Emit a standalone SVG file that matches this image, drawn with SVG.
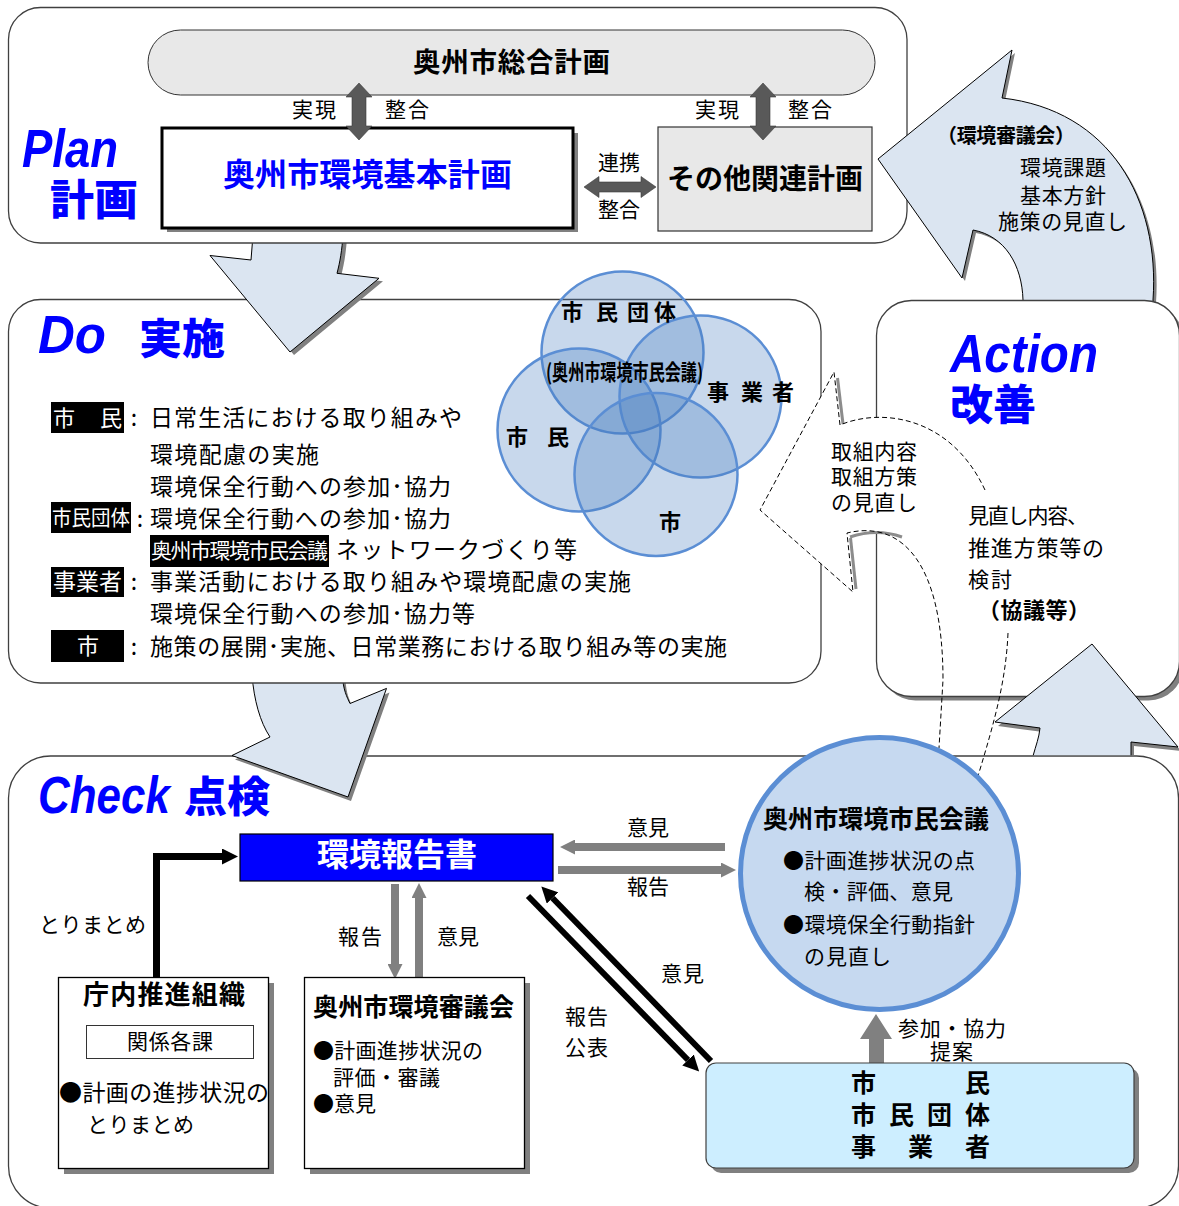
<svg xmlns="http://www.w3.org/2000/svg" width="1179" height="1206" viewBox="0 0 1179 1206">
<defs>
<style>
text{font-family:"Noto Sans CJK JP","Noto Sans CJK SC",sans-serif;dominant-baseline:central;fill:#000;transform:translateY(-0.09em)}
.b{font-weight:bold}
.s20{font-size:20px}.s21{font-size:21px}.s22{font-size:22px}.s23{font-size:23px}.s24{font-size:24px}.s25{font-size:25px}.s26{font-size:26px}
.lat{font-family:"Liberation Sans",Arial,sans-serif;font-style:italic;font-weight:bold;fill:#0000ff;dominant-baseline:alphabetic;transform:none}
.ttl{font-weight:900;fill:#0000ff;font-size:42px}
.w{fill:#fff}
.frame{fill:#fff;stroke:#404040;stroke-width:1.3}
.ba{fill:#dbe5f1;stroke:#000;stroke-width:1}
.sh{fill:#808080}
.venn{fill:#4a7ebf;fill-opacity:0.3;stroke:#5b8ed4;stroke-width:2.5}
.dash{fill:none;stroke:#000;stroke-width:1;stroke-dasharray:5 3}
.gs{fill:none;stroke:#8c8c8c;stroke-width:3}
.dg{fill:#595959;stroke:#3a3a3a;stroke-width:0.6}
.ga{stroke:#808080;stroke-width:8;fill:none}
.ka{stroke:#000;fill:none}
.box{fill:#fff;stroke:#000;stroke-width:1.3}
</style>
<marker id="hb" viewBox="0 0 16 16" markerWidth="16" markerHeight="16" refX="0" refY="8" orient="auto" markerUnits="userSpaceOnUse"><path d="M0,0L16,8L0,16z" fill="#000"/></marker>
<marker id="hg" viewBox="0 0 15 15" markerWidth="15" markerHeight="15" refX="0" refY="7.5" orient="auto" markerUnits="userSpaceOnUse"><path d="M0,0L15,7.5L0,15z" fill="#808080"/></marker>
<clipPath id="cpA"><rect x="900" y="600" width="300" height="155.3"/></clipPath>
</defs>
<rect width="1179" height="1206" fill="#fff"/>

<!-- CHECK frame -->
<g id="check-frame">
<rect class="frame" x="8.5" y="756" width="1170" height="452" rx="42"/>
</g>

<!-- Do -> Check arrow -->
<g id="arrow-do-check">
<path class="sh" transform="translate(3,4)" d="M252,675 C254,700 260,722 270,737 L232,755.5 L348,797 L386.5,688.4 L350,703.5 C347,697 343,690 342.5,675 Z"/>
<path class="ba" d="M252,675 C254,700 260,722 270,737 L232,755.5 L348,797 L386.5,688.4 L350,703.5 C347,697 343,690 342.5,675 Z"/>
</g>

<!-- DO frame -->
<g id="do-frame">
<rect class="frame" x="8.5" y="299.5" width="812.5" height="383.5" rx="32"/>
</g>

<!-- Plan -> Do arrow -->
<g id="arrow-plan-do">
<path class="sh" transform="translate(4,3)" d="M253,235 L251,260 L210,255.5 L290,352 L379,278.3 L337,273.3 C340,262 342,250 343,235 Z"/>
<path class="ba" d="M253,235 L251,260 L210,255.5 L290,352 L379,278.3 L337,273.3 C340,262 342,250 343,235 Z"/>
</g>

<!-- PLAN frame -->
<g id="plan-frame">
<rect class="frame" x="8.5" y="7.5" width="898.5" height="235.5" rx="32"/>
<text class="lat" x="22" y="167" font-size="54" textLength="96" lengthAdjust="spacingAndGlyphs">Plan</text>
<text class="ttl" x="50" y="200" textLength="88" lengthAdjust="spacingAndGlyphs">計画</text>
</g>
<g id="plan-sogo">
<rect x="148" y="30" width="727" height="65" rx="32.5" fill="#e8e8e8" stroke="#333" stroke-width="1"/>
<text class="b" x="413" y="62" font-size="27.5" textLength="197">奥州市総合計画</text>
</g>
<g id="plan-kihon">
<rect x="167" y="133" width="411" height="99" fill="#808080"/>
<rect x="162" y="128" width="411" height="100" fill="#fff" stroke="#000" stroke-width="3"/>
<text class="b" x="223" y="175" font-size="32" style="fill:#0000ff" textLength="289">奥州市環境基本計画</text>
</g>
<g id="plan-other">
<rect x="658" y="127" width="214" height="104" fill="#e8e8e8" stroke="#333" stroke-width="1.2"/>
<text class="b" x="667" y="180" font-size="28" textLength="196">その他関連計画</text>
</g>
<g id="plan-links">
<polygon class="dg" points="359,83 372,97 366,97 366,126 372,126 359,140 346,126 352,126 352,97 346,97"/>
<polygon class="dg" points="763,83 776,97 770,97 770,126 776,126 763,140 750,126 756,126 756,97 750,97"/>
<polygon class="dg" points="584,187 599,176.5 599,182 641,182 641,176.5 656,187 641,197.5 641,192 599,192 599,197.5"/>
<text class="s21" x="292" y="110" textLength="44">実現</text>
<text class="s21" x="385" y="110" textLength="44">整合</text>
<text class="s21" x="695" y="110" textLength="44">実現</text>
<text class="s21" x="788" y="110" textLength="44">整合</text>
<text class="s21" x="598" y="163" textLength="42">連携</text>
<text class="s21" x="598" y="210" textLength="42">整合</text>
</g>

<!-- Action -> Plan arrow -->
<g id="arrow-action-plan">
<path class="sh" transform="translate(3,3)" d="M878,159 L1012,50 L1002,98 C1110,110 1160,200 1153,300 L1153,310 L1023,310 L1023,300 C1022,265 1005,236 973,230 L962,278 Z"/>
<path class="ba" d="M878,159 L1012,50 L1002,98 C1110,110 1160,200 1153,300 L1153,310 L1023,310 L1023,300 C1022,265 1005,236 973,230 L962,278 Z"/>
<text class="b s20" x="937" y="136" textLength="138">（環境審議会）</text>
<text class="s21" x="1020" y="168" textLength="86">環境課題</text>
<text class="s21" x="1020" y="196" textLength="86">基本方針</text>
<text class="s21" x="998" y="222" textLength="129">施策の見直し</text>
</g>

<!-- ACTION frame -->
<g id="action-frame">
<rect x="880.5" y="304.5" width="303" height="396" rx="35" fill="#808080"/>
<rect class="frame" x="876.5" y="300.5" width="303" height="396" rx="35"/>
</g>

<!-- Check -> Action arrow -->
<g id="arrow-check-action" clip-path="url(#cpA)">
<path class="sh" transform="translate(3,4)" d="M1033,756 C1036,745 1039,738 1040,728 L995,722 L1092,644 L1178,747 L1131,742 L1131,756 Z"/>
<path class="ba" d="M1033,756 C1036,745 1039,738 1040,728 L995,722 L1092,644 L1178,747 L1131,742 L1131,756 Z"/>
</g>

<!-- review callout -->
<g id="callout-review">
<path fill="#fff" d="M834,372 L760,510 L853,592 L847,533 C900,520 943,560 943,690 L1003,690 C1006,665 1008,645 1008,633 C1007,580 1000,530 985,490 C950,415 880,408 840,425 Z"/>
<path class="gs" d="M837.5,378 L843,424"/>
<path class="gs" d="M850.5,538 L856,589"/>
<path class="gs" d="M850,537 C868,531 885,531 902,537"/>
<path class="dash" d="M985,490 C950,415 880,408 840,425 L834,372 L760,510 L853,592 L847,533 C900,520 943,560 943,680 L939,748"/>
<path class="dash" d="M1008,633 C1006,680 995,720 978,776"/>
<text class="s21" x="831" y="452" textLength="86">取組内容</text>
<text class="s21" x="831" y="477" textLength="86">取組方策</text>
<text class="s21" x="831" y="503" textLength="86">の見直し</text>
<text class="s21" x="968" y="516" textLength="120">見直し内容、</text>
<text class="s22" x="968" y="548" textLength="136">推進方策等の</text>
<text class="s21" x="968" y="580" textLength="44">検討</text>
<text class="b s22" x="978" y="610" textLength="112">（協議等）</text>
</g>

<g id="action-title">
<text class="lat" x="950" y="372" font-size="54" textLength="148" lengthAdjust="spacingAndGlyphs">Action</text>
<text class="ttl" x="950" y="405" textLength="86" lengthAdjust="spacingAndGlyphs">改善</text>
</g>

<!-- DO contents -->
<g id="do-title">
<text class="lat" x="38" y="353" font-size="53" textLength="68" lengthAdjust="spacingAndGlyphs">Do</text>
<text class="ttl" x="139" y="339" textLength="86" lengthAdjust="spacingAndGlyphs">実施</text>
</g>
<g id="venn">
<circle class="venn" cx="622.5" cy="352.5" r="81"/>
<circle class="venn" cx="579" cy="430" r="81.5"/>
<circle class="venn" cx="700.5" cy="396.5" r="81"/>
<circle class="venn" cx="656" cy="474.5" r="81.5"/>
<text class="b s22" x="561 596 627 654" y="312">市民団体</text>
<text class="b s22" x="546" y="372" textLength="157" lengthAdjust="spacingAndGlyphs">(奥州市環境市民会議)</text>
<text class="b s22" x="707 741 772" y="392">事業者</text>
<text class="b s22" x="506 547" y="437">市民</text>
<text class="b s22" x="659" y="522">市</text>
</g>
<g id="do-list">
<rect x="51" y="402" width="73" height="31" fill="#000"/>
<text class="w s22" x="53" y="418" textLength="69">市　民</text>
<rect x="51" y="502" width="80" height="31" fill="#000"/>
<text class="w s21" x="52" y="518" textLength="78" lengthAdjust="spacingAndGlyphs">市民団体</text>
<rect x="150" y="535" width="179" height="32" fill="#000"/>
<text class="w s21" x="151" y="551" textLength="177">奥州市環境市民会議</text>
<rect x="51" y="567" width="73" height="30" fill="#000"/>
<text class="w s23" x="53" y="582" textLength="69">事業者</text>
<rect x="51" y="630" width="73" height="32" fill="#000"/>
<text class="w s22" x="88" y="646" text-anchor="middle">市</text>
<text class="s23" x="134" y="418" text-anchor="middle">:</text>
<text class="s23" x="140" y="519" text-anchor="middle">:</text>
<text class="s23" x="134" y="582" text-anchor="middle">:</text>
<text class="s23" x="134" y="647" text-anchor="middle">:</text>
<text class="s23" x="150" y="418" textLength="312">日常生活における取り組みや</text>
<text class="s23" x="150" y="455" textLength="169">環境配慮の実施</text>
<text class="s23" x="150" y="487" textLength="301">環境保全行動への参加･協力</text>
<text class="s23" x="150" y="519" textLength="301">環境保全行動への参加･協力</text>
<text class="s23" x="336" y="550" textLength="241">ネットワークづくり等</text>
<text class="s23" x="150" y="582" textLength="481">事業活動における取り組みや環境配慮の実施</text>
<text class="s23" x="150" y="614" textLength="325">環境保全行動への参加･協力等</text>
<text class="s23" x="150" y="647" textLength="577">施策の展開･実施、日常業務における取り組み等の実施</text>
</g>

<!-- CHECK contents -->
<g id="check-title">
<text class="lat" x="38" y="813" font-size="52" textLength="132" lengthAdjust="spacingAndGlyphs">Check</text>
<text class="ttl" x="184" y="797" textLength="86" lengthAdjust="spacingAndGlyphs">点検</text>
</g>

<g id="connectors">
<path class="ka" stroke-width="7" d="M156.5,978 V856.5 H222" marker-end="url(#hb)"/>
<line class="ga" x1="395" y1="884" x2="395" y2="964" marker-end="url(#hg)"/>
<line class="ga" x1="419" y1="977" x2="419" y2="898" marker-end="url(#hg)"/>
<line class="ga" x1="725" y1="847" x2="575" y2="847" marker-end="url(#hg)"/>
<line class="ga" x1="558" y1="870" x2="721" y2="870" marker-end="url(#hg)"/>
<line class="ka" stroke-width="6" x1="528" y1="896" x2="688" y2="1060" marker-end="url(#hb)"/>
<line class="ka" stroke-width="6" x1="711" y1="1061" x2="552.5" y2="898" marker-end="url(#hb)"/>
<polygon fill="#808080" points="869,1064 869,1039 860,1039 876,1014 892,1039 884,1039 884,1064"/>
<text class="s21" x="39" y="925" textLength="107">とりまとめ</text>
<text class="s21" x="338" y="937" textLength="44">報告</text>
<text class="s21" x="437" y="937" textLength="42">意見</text>
<text class="s21" x="627" y="828" textLength="42">意見</text>
<text class="s21" x="627" y="887" textLength="42">報告</text>
<text class="s21" x="661" y="974" textLength="43">意見</text>
<text class="s21" x="565" y="1017" textLength="43">報告</text>
<text class="s21" x="565" y="1048" textLength="43">公表</text>
<text class="s21" x="898" y="1029" textLength="108">参加・協力</text>
<text class="s21" x="930" y="1052" textLength="43">提案</text>
</g>

<g id="report">
<rect x="240" y="834" width="313" height="47" fill="#0000ff" stroke="#000" stroke-width="1.2"/>
<text class="b w" x="397" y="855" font-size="32" text-anchor="middle" textLength="160">環境報告書</text>
</g>

<g id="chonai">
<rect x="64" y="983" width="210" height="191" fill="#808080"/>
<rect class="box" x="58.5" y="977.5" width="210" height="191"/>
<text class="b s26" x="83" y="995" textLength="162">庁内推進組織</text>
<rect x="86.5" y="1025.5" width="167" height="33" fill="#fff" stroke="#333" stroke-width="1"/>
<text class="s21" x="127" y="1042" textLength="86">関係各課</text>
<text class="s23" x="59" y="1093" textLength="210">●計画の進捗状況の</text>
<text class="s21" x="87" y="1125" textLength="107">とりまとめ</text>
</g>

<g id="shingikai">
<rect x="310" y="983" width="220" height="191" fill="#808080"/>
<rect class="box" x="304.5" y="977.5" width="220" height="191"/>
<text class="b s25" x="313" y="1007" textLength="201">奥州市環境審議会</text>
<text class="s21" x="313" y="1051" textLength="170">●計画進捗状況の</text>
<text class="s21" x="333" y="1078" textLength="107">評価・審議</text>
<text class="s21" x="313" y="1104" textLength="63">●意見</text>
</g>

<g id="citizens">
<rect x="711" y="1068" width="428" height="105" rx="10" fill="#808080"/>
<rect x="706" y="1063" width="428" height="105" rx="10" fill="#cdeeff" stroke="#404040" stroke-width="1.2"/>
<text class="b s25" x="851" y="1083" textLength="139">市　　　民</text>
<text class="b s25" x="851" y="1115" textLength="139">市民団体</text>
<text class="b s25" x="851" y="1147" textLength="139">事　業　者</text>
</g>

<g id="council">
<ellipse cx="879.5" cy="873.5" rx="139" ry="136" fill="#c6d9f0" stroke="#5b8ed4" stroke-width="5"/>
<text class="b s25" x="763" y="819" textLength="226">奥州市環境市民会議</text>
<text class="s21" x="783" y="861" textLength="192">●計画進捗状況の点</text>
<text class="s21" x="804" y="892" textLength="149">検・評価、意見</text>
<text class="s21" x="783" y="925" textLength="192">●環境保全行動指針</text>
<text class="s21" x="804" y="957" textLength="87">の見直し</text>
</g>
</svg>
